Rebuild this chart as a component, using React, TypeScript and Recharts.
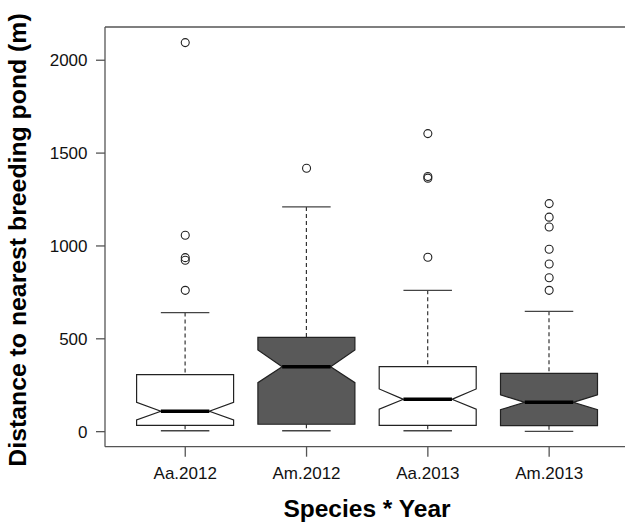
import React from 'react'
import { ComposedChart, Bar, Scatter, XAxis, YAxis, ReferenceLine } from 'recharts'

// summary stats per group
const categories = ['Aa.2012', 'Am.2012', 'Aa.2013', 'Am.2013']
const whiskerLow = [5, 5, 5, 2]
const lowerQuartile = [34, 40, 34, 32]
const notchLow = [63, 264, 121, 118]
const medians = [110, 350, 174, 158]
const notchHigh = [158, 440, 230, 198]
const upperQuartile = [307, 508, 350, 314]
const whiskerHigh = [641, 1210, 761, 648]

const outlierGroups = [
  [761, 923, 937, 1058, 2095],
  [1418],
  [939, 1365, 1374, 1605],
  [761, 829, 903, 982, 1102, 1155, 1228],
]

const yTicks = [0, 500, 1000, 1500, 2000]
const yDomain = [-81, 2179]
const boxFills = ['#ffffff', '#595959', '#ffffff', '#595959']

const FONT = '"Liberation Sans", Arial, Helvetica, sans-serif'

const boxData = categories.map((cat, i) => ({
  cat,
  range: [whiskerLow[i], whiskerHigh[i]],
  q1: lowerQuartile[i],
  nlo: notchLow[i],
  med: medians[i],
  nhi: notchHigh[i],
  q3: upperQuartile[i],
  fill: boxFills[i],
}))

const outlierData = categories.flatMap((cat, i) =>
  outlierGroups[i].map((value) => ({ cat, value }))
)

function NotchedBox(props: any) {
  const { x, y, width, height, payload } = props
  if (!payload) return null
  const [lo, hi] = payload.range
  // linear map inside the bar's own pixel span (bar covers lo..hi)
  const py = (v: number) => y + (height * (hi - v)) / (hi - lo)
  const cx = x + width / 2
  const left = x
  const right = x + width
  const inset = width / 4
  const d = [
    `M${left},${py(payload.q1)}`,
    `L${left},${py(payload.nlo)}`,
    `L${left + inset},${py(payload.med)}`,
    `L${left},${py(payload.nhi)}`,
    `L${left},${py(payload.q3)}`,
    `L${right},${py(payload.q3)}`,
    `L${right},${py(payload.nhi)}`,
    `L${right - inset},${py(payload.med)}`,
    `L${right},${py(payload.nlo)}`,
    `L${right},${py(payload.q1)}`,
    'Z',
  ].join(' ')
  return (
    <g>
      <line x1={cx} x2={cx} y1={py(hi)} y2={py(payload.q3)} stroke="#333" strokeWidth={1.2} strokeDasharray="4 3" />
      <line x1={cx} x2={cx} y1={py(payload.q1)} y2={py(lo)} stroke="#333" strokeWidth={1.2} strokeDasharray="4 3" />
      <line x1={cx - width / 4} x2={cx + width / 4} y1={py(hi)} y2={py(hi)} stroke="#444" strokeWidth={1.3} />
      <line x1={cx - width / 4} x2={cx + width / 4} y1={py(lo)} y2={py(lo)} stroke="#444" strokeWidth={1.3} />
      <path d={d} fill={payload.fill} stroke="#222" strokeWidth={1.2} />
      <line x1={left + inset} x2={right - inset} y1={py(payload.med)} y2={py(payload.med)} stroke="#000" strokeWidth={3.5} />
    </g>
  )
}

const OpenCircle = (p: any) => (
  <circle cx={p.cx} cy={p.cy} r={4} fill="none" stroke="#222" strokeWidth={1.1} />
)

export default function App() {
  return (
    <div style={{ position: 'absolute', left: 0, top: 0, background: '#fff' }}>
      <ComposedChart
        width={625}
        height={522}
        data={boxData}
        margin={{ top: 27, right: 0, bottom: 0, left: 0 }}
        style={{ fontFamily: FONT }}
      >
        <XAxis
          dataKey="cat"
          type="category"
          allowDuplicatedCategory={false}
          height={75.3}
          padding={{ left: 19.6, right: 15.2 }}
          tickSize={10}
          tickMargin={10}
          axisLine={{ stroke: '#555', strokeWidth: 1.3 }}
          tickLine={{ stroke: '#555', strokeWidth: 1.3 }}
          tick={{ fontSize: 17, fill: '#111', fontFamily: FONT }}
          label={{
            content: ({ viewBox }: any) => (
              <text
                x={viewBox.x + viewBox.width / 2 + 2}
                y={516.5}
                textAnchor="middle"
                fontSize={24.5}
                fontWeight="bold"
                fontFamily={FONT}
                fill="#000"
              >
                Species * Year
              </text>
            ),
          }}
        />
        <YAxis
          type="number"
          domain={yDomain}
          ticks={yTicks}
          allowDataOverflow
          width={105}
          tickSize={9}
          tickMargin={8.5}
          axisLine={{ stroke: '#555', strokeWidth: 1.3 }}
          tickLine={{ stroke: '#555', strokeWidth: 1.3 }}
          tick={{ fontSize: 17, fill: '#111', fontFamily: FONT }}
          label={{
            content: () => (
              <text
                x={26}
                y={240}
                transform="rotate(-90, 26, 240)"
                textAnchor="middle"
                fontSize={24.8}
                fontWeight="bold"
                fontFamily={FONT}
                fill="#000"
              >
                Distance to nearest breeding pond (m)
              </text>
            ),
          }}
        />
        <ReferenceLine y={yDomain[1]} stroke="#555" strokeWidth={1.3} />
        <Bar dataKey="range" barSize={97} shape={(p: any) => <NotchedBox {...p} />} isAnimationActive={false} />
        <Scatter data={outlierData} dataKey="value" shape={OpenCircle} isAnimationActive={false} />
      </ComposedChart>
    </div>
  )
}
